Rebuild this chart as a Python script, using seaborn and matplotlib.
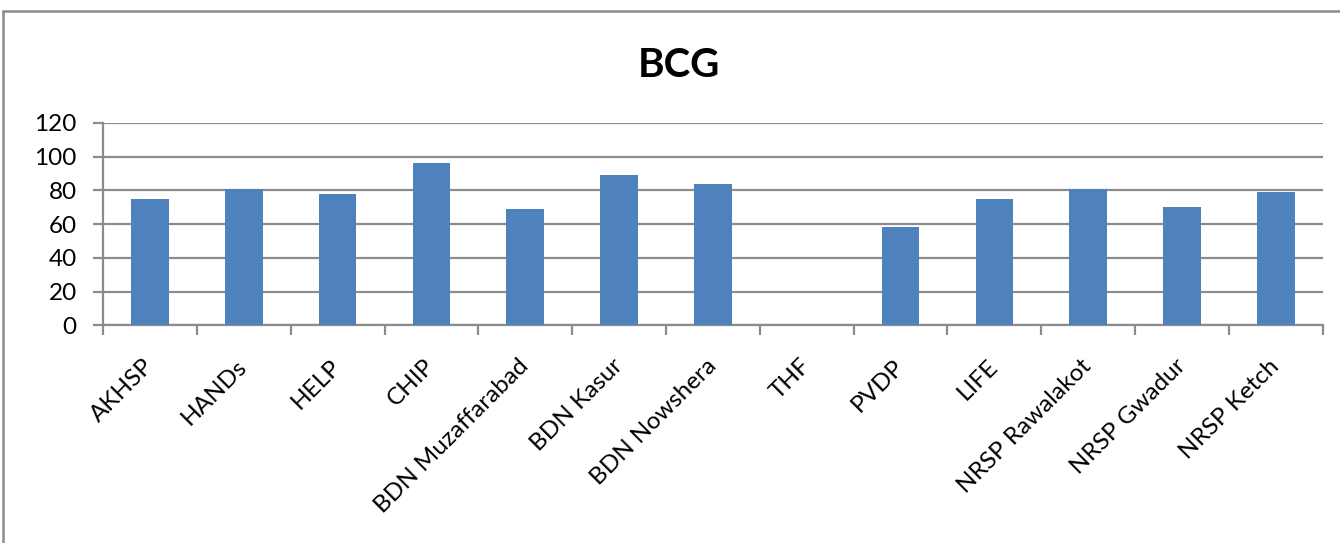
import matplotlib
matplotlib.use("Agg")
import matplotlib.pyplot as plt
from matplotlib.lines import Line2D
import numpy as np
import pandas as pd
import seaborn as sns

# BCG coverage by implementing partner
partners = ["AKHSP", "HANDs", "HELP", "CHIP", "BDN Muzaffarabad", "BDN Kasur",
            "BDN Nowshera", "THF", "PVDP", "LIFE", "NRSP Rawalakot",
            "NRSP Gwadur", "NRSP Ketch"]
bcg = [75, 81, 78, 96, 69, 89, 84, 0, 58, 75, 81, 70, 79]
y_ticks = [0, 20, 40, 60, 80, 100, 120]
title = "BCG"

sns.set_theme(style="white")
plt.rcParams["font.family"] = ["Lato", "DejaVu Sans"]

grid_col = "#8c8c8c"
bar_col = "#4f81bd"

fig = plt.figure(figsize=(13.4, 5.43), dpi=100)
ax = fig.add_axes([0.0769, 0.401, 0.9102, 0.3725])

df = pd.DataFrame({"partner": partners, "value": bcg})
sns.barplot(data=df, x="partner", y="value", color=bar_col, width=0.4,
            saturation=1, linewidth=0, ax=ax, zorder=3)

ax.set_ylim(0, 120)
ax.set_yticks(y_ticks)
ax.set_xlim(-0.5, len(partners) - 0.5)
ax.yaxis.grid(True, color=grid_col, linewidth=1.6, zorder=0)
ax.set_axisbelow(True)

for s in ["top", "right"]:
    ax.spines[s].set_visible(False)
for s in ["left", "bottom"]:
    ax.spines[s].set_color(grid_col)
    ax.spines[s].set_linewidth(1.6)

ax.tick_params(axis="y", length=7, width=1.6, color=grid_col, labelsize=17.5,
               pad=12, left=True)
ax.tick_params(axis="x", which="major", length=0, labelsize=17.5, pad=27)
ax.set_xticks(np.arange(-0.5, len(partners), 1.0), minor=True)
ax.tick_params(axis="x", which="minor", length=7, width=1.6, color=grid_col,
               bottom=True)
plt.setp(ax.get_xticklabels(), rotation=45, ha="right", va="center",
         rotation_mode="anchor")
for lab in ax.get_xticklabels() + ax.get_yticklabels():
    lab.set_color("black")

ax.set_xlabel("")
ax.set_ylabel("")

fig.text(0.507, 0.88, title, ha="center", va="center", fontsize=29,
         fontweight="bold", color="black")

# outer chart border
fig.add_artist(Line2D([0.0026, 0.0026], [0.0, 0.979], color=grid_col,
                      linewidth=1.8, transform=fig.transFigure))
fig.add_artist(Line2D([0.0026, 1.0], [0.979, 0.979], color=grid_col,
                      linewidth=1.8, transform=fig.transFigure))

fig.savefig("out.png", dpi=100, facecolor="white")
